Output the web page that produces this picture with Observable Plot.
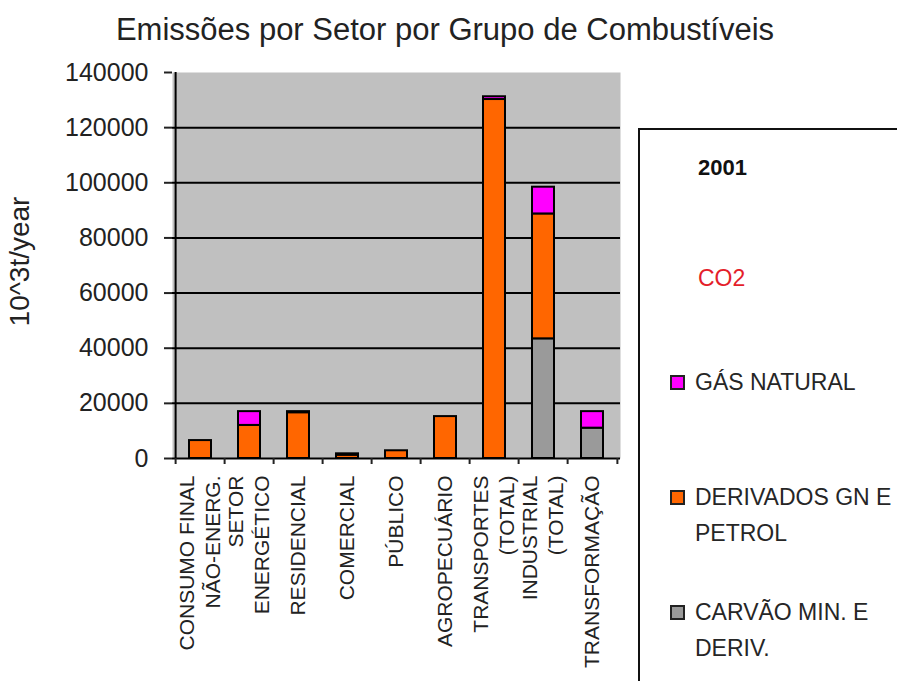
<!DOCTYPE html>
<html>
<head>
<meta charset="utf-8">
<script src="https://cdn.jsdelivr.net/npm/d3@7"></script>
<script src="https://cdn.jsdelivr.net/npm/@observablehq/plot@0.6"></script>
<style>
  body { margin: 0; background: #fff; overflow: hidden; font-family: "Liberation Sans", Arial, sans-serif; }
  #wrap { position: relative; width: 897px; height: 681px; overflow: hidden; background: #fff; }
  #title { position: absolute; left: 0; width: 890px; top: 14px; text-align: center; font-size: 31px; line-height: 31px; color: #222; white-space: nowrap; }
  #chart { position: absolute; left: 0; top: 0; }
  #legend { position: absolute; left: 638px; top: 128px; width: 300px; height: 600px; border: 2px solid #111; background: #fff; }
  .lg { position: absolute; font-size: 23px; line-height: 36px; color: #262626; white-space: pre; }
  .sw { position: absolute; width: 11px; height: 11px; border: 2px solid #222; }
</style>
</head>
<body>
<div id="wrap">
  <div id="chart"></div>
  <div id="title"></div>
  <div id="legend"></div>
</div>
<script>
const titleText = "Emissões por Setor por Grupo de Combustíveis";
const yTitle = "10^3t/year";
const sectors = ["CONSUMO FINAL\nNÃO-ENERG.", "SETOR\nENERGÉTICO", "RESIDENCIAL", "COMERCIAL", "PÚBLICO", "AGROPECUÁRIO", "TRANSPORTES\n(TOTAL)", "INDUSTRIAL\n(TOTAL)", "TRANSFORMAÇÃO"];
const fuels = ["CARVÃO MIN. E DERIV.", "DERIVADOS GN E PETROL", "GÁS NATURAL"];
const carvao     = [0,    0,     0,     0,    0,    0,     0,      43400, 11000];
const derivados  = [6500, 12000, 16600, 1200, 2800, 15200, 130200, 45300, 0];
const gasNatural = [0,    5000,  400,   500,  0,    0,     1000,   9700,  6000];
const yTicks = [0, 20000, 40000, 60000, 80000, 100000, 120000, 140000];
const fuelColors = ["#9a9a9a", "#ff6600", "#ff00ff"];
const legendYear = "2001";
const legendGas = "CO2";
const legendLabels = ["GÁS NATURAL", "DERIVADOS GN E\nPETROL", "CARVÃO MIN. E\nDERIV."];
const legendColors = ["#ff00ff", "#ff6600", "#9a9a9a"];

document.getElementById("title").textContent = titleText;

const series = [carvao, derivados, gasNatural];
const rows = [];
sectors.forEach((s, i) => {
  series.forEach((arr, k) => {
    if (arr[i] > 0) rows.push({sector: s, fuel: fuels[k], value: arr[i]});
  });
});

const W = 897, H = 681, mL = 172, mR = 277, mT = 72, mB = 223;
const step = (W - mL - mR) / sectors.length;

const chart = Plot.plot({
  width: W, height: H,
  marginLeft: mL, marginRight: mR, marginTop: mT, marginBottom: mB,
  style: {fontFamily: "Liberation Sans, Arial, sans-serif", color: "#222", background: "transparent", overflow: "visible"},
  x: {domain: sectors, paddingInner: 0.55, paddingOuter: 0.275, axis: null},
  y: {domain: [yTicks[0], yTicks[yTicks.length - 1]], axis: null},
  color: {domain: fuels, range: fuelColors},
  marks: [
    Plot.frame({fill: "#c0c0c0", stroke: "none"}),
    Plot.ruleY(yTicks.slice(1, -1), {stroke: "#000", strokeWidth: 2}),
    Plot.barY(rows, {x: "sector", y: "value", fill: "fuel", stroke: "#000", strokeWidth: 2}),
    Plot.ruleY([0], {stroke: "#000", strokeWidth: 2}),
    Plot.ruleX([sectors[0]], {dx: -step / 2, y1: yTicks[0], y2: yTicks[yTicks.length - 1], stroke: "#000", strokeWidth: 2}),
    Plot.axisY({ticks: yTicks, tickSize: 8, tickPadding: 16, tickFormat: d => String(d), fontSize: 25, strokeWidth: 2, label: null}),
    Plot.axisX({tickSize: 6, tickFormat: () => "", dx: -step / 2, strokeWidth: 2, label: null}),
    Plot.axisX([sectors[sectors.length - 1]], {tickSize: 6, tickFormat: () => "", dx: step / 2, strokeWidth: 2, label: null}),
    Plot.text(sectors, {x: d => d, frameAnchor: "bottom", rotate: -90, textAnchor: "end", lineAnchor: "middle", lineHeight: 1.25, fontSize: 21, dy: 17, dx: -2, fill: "#222"}),
    Plot.text([yTitle], {frameAnchor: "left", rotate: -90, textAnchor: "middle", dx: -152, dy: -4, fontSize: 28, fill: "#222"})
  ]
});
document.getElementById("chart").appendChild(chart);

// legend
const lg = document.getElementById("legend");
function addText(txt, left, top, extra) {
  const d = document.createElement("div");
  d.className = "lg";
  d.textContent = txt;
  d.style.left = left + "px";
  d.style.top = top + "px";
  Object.assign(d.style, extra || {});
  lg.appendChild(d);
}
addText(legendYear, 58, 20, {fontWeight: "bold", fontSize: "22px", color: "#111"});
addText(legendGas, 58, 130, {color: "#e41e2a"});
const itemTops = [234, 349, 464];
legendLabels.forEach((lab, i) => {
  const sw = document.createElement("div");
  sw.className = "sw";
  sw.style.left = "30px";
  sw.style.top = (itemTops[i] + 11) + "px";
  sw.style.background = legendColors[i];
  lg.appendChild(sw);
  addText(lab, 55, itemTops[i]);
});
</script>
</body>
</html>
